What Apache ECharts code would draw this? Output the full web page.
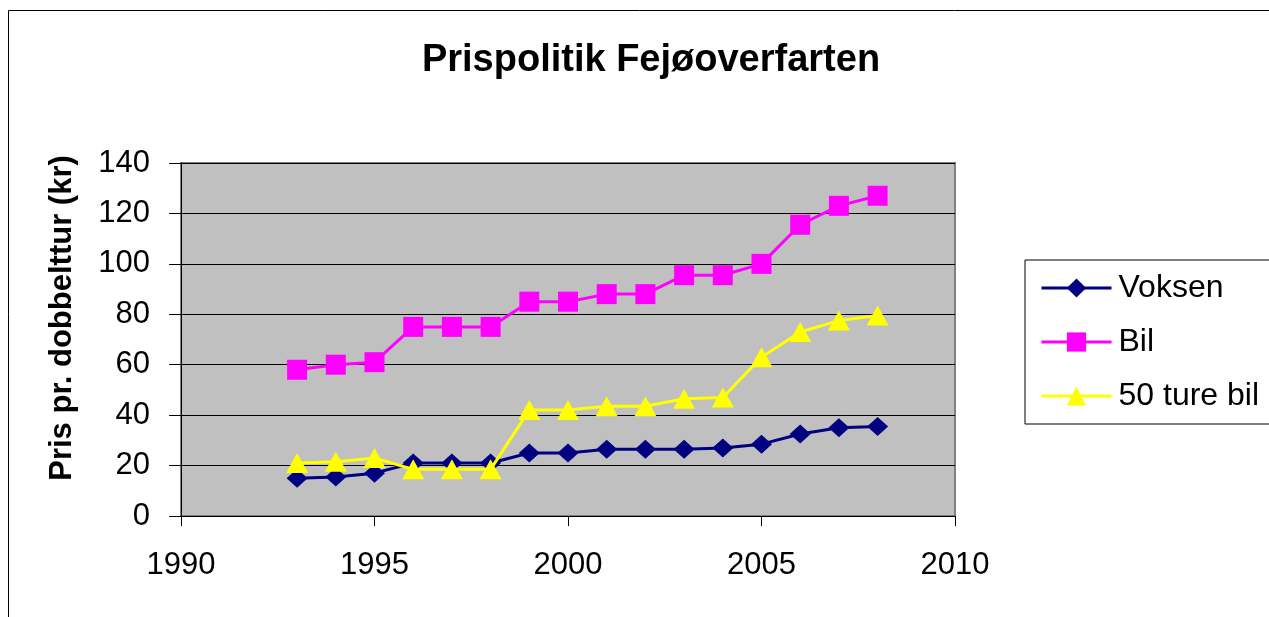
<!DOCTYPE html>
<html>
<head>
    <meta charset="utf-8">
    <title>Prispolitik Fejøoverfarten</title>
    <script src="https://cdn.jsdelivr.net/npm/echarts@6/dist/echarts.min.js"></script>
    <style>
        html, body { margin: 0; padding: 0; background: #fff; }
    </style>
</head>
<body>
    <div id="container" style="width:1269px;height:617px;"></div>
    <script type="text/javascript">
        // data
        var years   = [1993, 1994, 1995, 1996, 1997, 1998, 1999, 2000, 2001, 2002, 2003, 2004, 2005, 2006, 2007, 2008];
        var voksen  = [15, 15.5, 17, 21, 21, 21, 25, 25, 26.5, 26.5, 26.5, 27, 28.5, 32.5, 35, 35.5];
        var bil     = [58, 60, 61, 75, 75, 75, 85, 85, 88, 88, 95.5, 95.5, 100, 115.5, 123, 127];
        var ture50  = [21, 21.5, 23, 18.5, 18.5, 18.5, 42, 42, 43.5, 43.5, 46.5, 47, 63, 73, 77.5, 79.5];
        var seriesNames = ['Voksen', 'Bil', '50 ture bil'];
        var yName = 'Pris pr. dobbelttur (kr)';

        function pairs(vals) {
            return years.map(function (y, i) { return [y, vals[i]]; });
        }

        var font = 'Liberation Sans, Arial, sans-serif';
        var myChart = echarts.init(document.getElementById('container'));

        var option = {
            animation: false,
            backgroundColor: '#ffffff',
            graphic: [
                {
                    type: 'rect',
                    shape: { x: 8.5, y: 10.5, width: 1300, height: 700 },
                    style: { fill: 'none', stroke: '#000', lineWidth: 1 },
                    z: -10
                },
                {
                    // y axis title, placed by hand like in the original
                    type: 'text',
                    x: 62,
                    y: 318,
                    rotation: Math.PI / 2,
                    style: {
                        text: yName,
                        fontFamily: font,
                        fontSize: 31,
                        fontWeight: 'bold',
                        fill: '#000',
                        align: 'center',
                        verticalAlign: 'middle'
                    }
                }
            ],
            title: {
                text: 'Prispolitik Fejøoverfarten',
                left: 646,
                top: 37,
                textAlign: 'center',
                textStyle: { fontFamily: font, fontSize: 38, fontWeight: 'bold', color: '#000' }
            },
            legend: {
                data: seriesNames,
                orient: 'vertical',
                left: 1025,
                top: 260,
                padding: [12, 30, 12, 15],
                itemWidth: 70,
                itemHeight: 24,
                itemGap: 22,
                borderColor: '#000',
                borderWidth: 1,
                lineStyle: { width: 3 },
                textStyle: { fontFamily: font, fontSize: 32, color: '#000', padding: [0, 0, 0, 2] }
            },
            grid: {
                left: 181,
                top: 163,
                right: 314,
                bottom: 101,
                show: true,
                backgroundColor: '#c0c0c0',
                borderColor: '#808080',
                borderWidth: 2
            },
            xAxis: {
                type: 'value',
                min: 1990,
                max: 2010,
                interval: 5,
                axisLine: { show: true, lineStyle: { color: '#000', width: 1 } },
                axisTick: { show: true, inside: false, length: 10, lineStyle: { color: '#000' } },
                splitLine: { show: false },
                axisLabel: {
                    fontFamily: font, fontSize: 31, color: '#000', margin: 34,
                    formatter: function (v) { return String(v); }
                }
            },
            yAxis: {
                type: 'value',
                min: 0,
                max: 140,
                interval: 20,
                axisLine: { show: true, lineStyle: { color: '#000', width: 1 } },
                axisTick: { show: true, inside: false, length: 12, lineStyle: { color: '#000' } },
                splitLine: { show: true, lineStyle: { color: '#000', width: 1 } },
                axisLabel: { fontFamily: font, fontSize: 31, color: '#000', margin: 31 }
            },
            series: [
                {
                    name: 'Voksen',
                    type: 'line',
                    data: pairs(voksen),
                    symbol: 'diamond',
                    symbolSize: [21, 19],
                    itemStyle: { color: '#000080' },
                    lineStyle: { color: '#000080', width: 3 },
                    z: 3
                },
                {
                    name: 'Bil',
                    type: 'line',
                    data: pairs(bil),
                    symbol: 'rect',
                    symbolSize: 20,
                    itemStyle: { color: '#ff00ff' },
                    lineStyle: { color: '#ff00ff', width: 3 },
                    z: 4
                },
                {
                    name: '50 ture bil',
                    type: 'line',
                    data: pairs(ture50),
                    symbol: 'triangle',
                    symbolSize: [22, 20],
                    itemStyle: { color: '#ffff00' },
                    lineStyle: { color: '#ffff00', width: 3 },
                    z: 5
                }
            ]
        };

        myChart.setOption(option);
    </script>
</body>
</html>
